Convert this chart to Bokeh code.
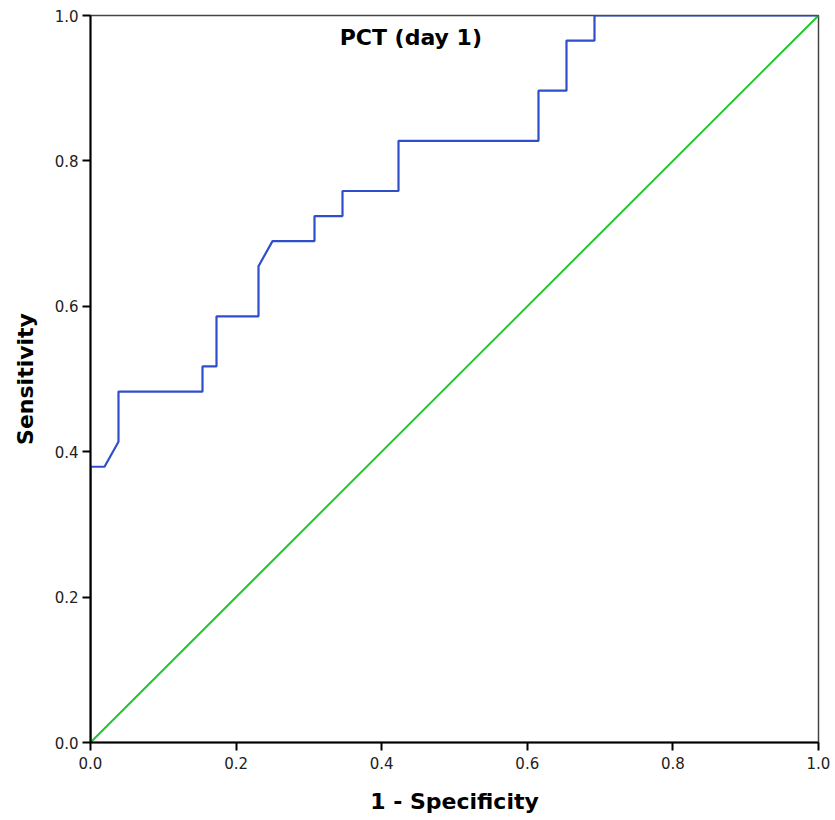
from bokeh.plotting import figure
from bokeh.models import Label, FixedTicker, PrintfTickFormatter, Range1d
from bokeh.embed import file_html
from bokeh.resources import INLINE

# ROC curve points (1 - specificity, sensitivity)
fpr = [0.0, 0.0, 1/52, 2/52, 2/52, 8/52, 8/52, 9/52, 9/52, 12/52, 12/52, 13/52,
       16/52, 16/52, 18/52, 18/52, 22/52, 22/52, 32/52, 32/52, 34/52, 34/52,
       36/52, 36/52, 1.0]
tpr = [0.0, 11/29, 11/29, 12/29, 14/29, 14/29, 15/29, 15/29, 17/29, 17/29, 19/29, 20/29,
       20/29, 21/29, 21/29, 22/29, 22/29, 24/29, 24/29, 26/29, 26/29, 28/29,
       28/29, 1.0, 1.0]
ref_x = [0.0, 1.0]
ref_y = [0.0, 1.0]
ticks = [0.0, 0.2, 0.4, 0.6, 0.8, 1.0]

FONT = "DejaVu Sans"

p = figure(width=835, height=812, output_backend="svg", toolbar_location=None,
           x_range=Range1d(0, 1), y_range=Range1d(0, 1),
           min_border_left=90, min_border_right=17, min_border_top=15, min_border_bottom=70)
p.frame_width = 728
p.frame_height = 727

p.grid.visible = False
p.background_fill_color = "white"
p.border_fill_color = "white"
p.outline_line_color = "#444444"
p.outline_line_width = 1.5

for ax in (p.xaxis, p.yaxis):
    ax.ticker = FixedTicker(ticks=ticks)
    ax.formatter = PrintfTickFormatter(format="%.1f")
    ax.minor_tick_line_color = None
    ax.major_tick_in = 0
    ax.major_tick_out = 8
    ax.major_tick_line_width = 2
    ax.axis_line_width = 2
    ax.axis_line_color = "black"
    ax.major_tick_line_color = "black"
    ax.major_label_text_font = FONT
    ax.major_label_text_font_size = "15px"
    ax.major_label_text_color = "#222222"
    ax.axis_label_text_font = FONT
    ax.axis_label_text_font_size = "22px"
    ax.axis_label_text_font_style = "bold"
    ax.axis_label_text_color = "black"

p.xaxis.axis_label = "1 - Specificity"
p.yaxis.axis_label = "Sensitivity"
p.xaxis.axis_label_standoff = 17
p.yaxis.axis_label_standoff = 14
p.xaxis.major_label_standoff = 6
p.yaxis.major_label_standoff = 4

p.line(ref_x, ref_y, line_color="#22c72e", line_width=2)
p.line(fpr, tpr, line_color="#2e4fc9", line_width=2.2)

title = Label(x=0.44, y=1.0, y_offset=-22, text="PCT (day 1)", text_align="center",
              text_baseline="middle", text_font=FONT, text_font_size="22px",
              text_font_style="bold", text_color="black")
p.add_layout(title)

open("out.html", "w").write(file_html(p, INLINE))
